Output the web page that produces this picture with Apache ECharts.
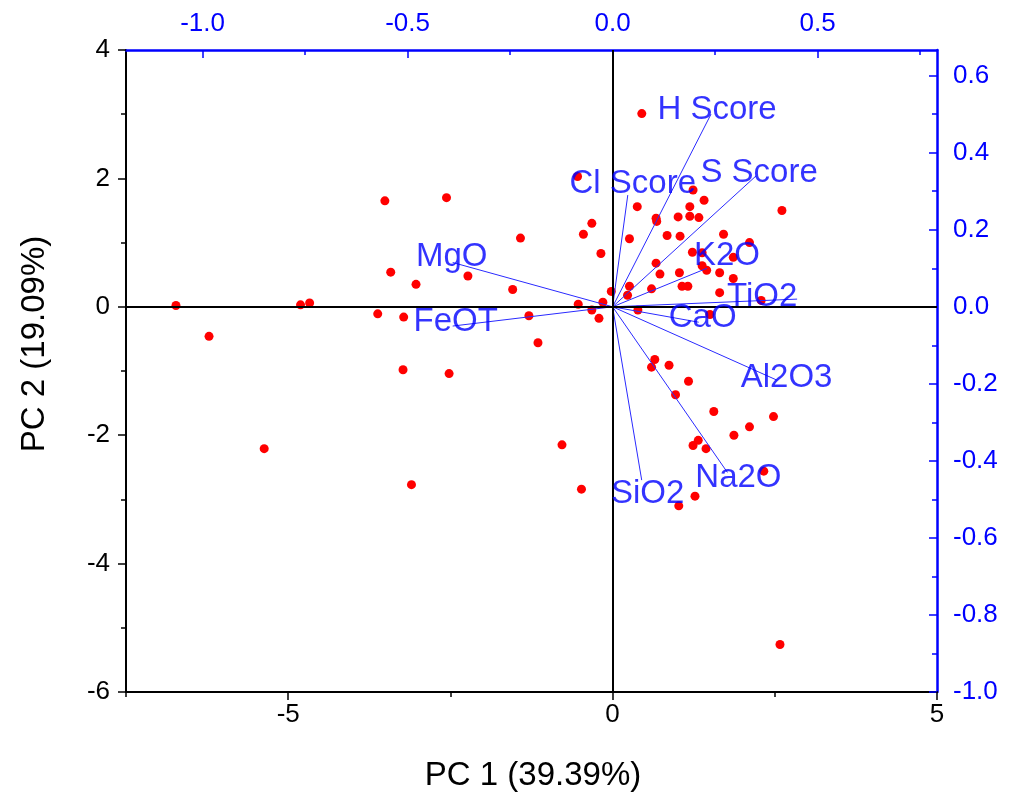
<!DOCTYPE html>
<html><head><meta charset="utf-8">
<script src="https://cdn.jsdelivr.net/npm/echarts@6/dist/echarts.min.js"></script>
<style>html,body{margin:0;padding:0;background:#fff}#c{width:1015px;height:795px}</style>
</head><body><div id="c"></div>
<script>
// ---- data ----
const pc1Scores = [-6.73,-6.22,-5.37,-4.81,-4.67,-3.51,-3.42,-3.03,-3.62,-3.22,-3.23,-3.10,-2.56,-2.52,-2.23,-1.54,-1.42,-1.29,-1.15,-0.78,-0.48,-0.54,-0.45,-0.32,-0.18,-0.53,-0.15,-0.32,-0.21,-0.02,0.26,0.23,0.60,0.73,0.39,0.26,0.38,0.45,1.24,1.41,1.19,0.67,0.68,1.01,1.19,1.33,0.84,1.04,1.71,2.11,2.61,1.23,1.38,1.86,0.67,1.38,1.45,1.03,1.65,1.86,1.07,1.16,1.65,2.29,1.50,0.65,0.60,0.87,1.17,0.97,1.56,2.48,2.11,1.87,1.32,1.24,1.44,2.33,1.27,1.02,2.58];
const pc2Scores = [0.02,-0.46,-2.21,0.03,0.06,1.65,0.54,0.35,-0.11,-0.16,-0.98,-2.77,1.70,-1.04,0.48,0.27,1.07,-0.14,-0.56,-2.15,-2.84,2.03,1.13,1.30,0.83,0.04,0.07,-0.05,-0.18,0.24,0.32,0.18,0.28,0.51,-0.05,1.06,1.56,3.01,1.82,1.66,1.56,1.38,1.33,1.40,1.41,1.39,1.11,1.10,1.13,1.00,1.50,0.85,0.84,0.77,0.68,0.64,0.57,0.53,0.53,0.44,0.32,0.32,0.22,0.10,-0.12,-0.82,-0.94,-0.91,-1.16,-1.37,-1.63,-1.71,-1.87,-2.00,-2.08,-2.16,-2.21,-2.56,-2.95,-3.10,-5.26];
const loadingNames = ['H Score','S Score','Cl Score','K2O','TiO2','CaO','Al2O3','Na2O','SiO2','MgO','FeOT'];
const loadingPC1 = [0.24,0.35,0.037,0.23,0.45,0.21,0.40,0.28,0.071,-0.39,-0.39];
const loadingPC2 = [0.50,0.34,0.29,0.10,0.02,-0.04,-0.19,-0.43,-0.45,0.115,-0.05];
const bottomTicks = [-5,0,5];
const bottomMinor = [-7.5,-2.5,2.5];
const topTicks = [-1.0,-0.5,0.0,0.5];
const topMinor = [-0.75,-0.25,0.25,0.75];
const leftTicks = [-6,-4,-2,0,2,4];
const leftMinor = [-5,-3,-1,1,3];
const rightTicks = [-1.0,-0.8,-0.6,-0.4,-0.2,0.0,0.2,0.4,0.6];
const rightMinor = [-0.9,-0.7,-0.5,-0.3,-0.1,0.1,0.3,0.5];
const xTitle = 'PC 1 (39.39%)';
const yTitle = 'PC 2 (19.09%)';

// ---- style / layout ----
const FONT = 'Liberation Sans, Arial, sans-serif';
const BLUE = '#0000ff';
const X_RANGE = [-7.5, 5], Y_RANGE = [-6, 4];
const TOP_FACTOR = 6.32, RIGHT_FACTOR = 6;
const labelOffsets = [[6,-4],[3,-3],[5,-11],[20,-12],[-35,-2],[4,-4],[10,-2],[11,5],[6,14],[-1,-6],[3,-4]];

function axis(pos, range, ticks, color, inside, major, labels, fmt, margin, lw) {
  return {
    type: 'value', position: pos, min: range[0], max: range[1],
    axisLine: { show: major, onZero: false, lineStyle: { color: color, width: lw } },
    axisTick: { show: true, inside: inside, customValues: ticks, length: major ? 8 : 5, lineStyle: { color: color, width: 1.5 } },
    axisLabel: { show: labels, customValues: ticks, color: color, fontSize: 26, fontFamily: FONT, margin: margin, formatter: fmt },
    splitLine: { show: false }
  };
}
const f1 = v => Number(v).toFixed(1);
const f0 = v => String(Math.round(v));
const topRange = [X_RANGE[0] / TOP_FACTOR, X_RANGE[1] / TOP_FACTOR];
const rightRange = [Y_RANGE[0] / RIGHT_FACTOR, Y_RANGE[1] / RIGHT_FACTOR];

const chart = echarts.init(document.getElementById('c'));
const series = [{
  type: 'scatter', xAxisIndex: 0, yAxisIndex: 0, z: 3,
  data: pc1Scores.map((x, i) => [x, pc2Scores[i]]),
  symbolSize: 9, itemStyle: { color: '#ff0000', opacity: 1 },
  markLine: { silent: true, symbol: 'none', label: { show: false },
    lineStyle: { color: '#000', width: 2, type: 'solid' },
    data: [{ xAxis: 0 }, { yAxis: 0 }] }
}];
loadingNames.forEach((n, i) => {
  series.push({ type: 'line', xAxisIndex: 1, yAxisIndex: 1, z: 4, symbol: 'none',
    data: [[0, 0], [loadingPC1[i], loadingPC2[i]]],
    lineStyle: { color: '#2a2aff', width: 1 } });
});
series.push({ type: 'scatter', xAxisIndex: 1, yAxisIndex: 1, z: 5, symbolSize: 0,
  data: loadingNames.map((n, i) => ({ value: [loadingPC1[i], loadingPC2[i]], name: n,
    label: { offset: labelOffsets[i] } })),
  label: { show: true, position: 'inside', formatter: p => p.name, color: BLUE, fontSize: 33, fontFamily: FONT }
});

chart.setOption({
  animation: false,
  grid: { left: 126, right: 78, top: 50, bottom: 103, containLabel: false, outerBoundsMode: 'none' },
  xAxis: [
    axis('bottom', X_RANGE, bottomTicks, '#000', false, true, true, f0, 10, 2),
    axis('top', topRange, topTicks, BLUE, true, true, true, f1, 13, 2.5),
    axis('bottom', X_RANGE, bottomMinor, '#000', false, false, false, f0, 10, 2),
    axis('top', topRange, topMinor, BLUE, true, false, false, f1, 13, 2.5)
  ],
  yAxis: [
    axis('left', Y_RANGE, leftTicks, '#000', false, true, true, f0, 16, 2),
    axis('right', rightRange, rightTicks, BLUE, true, true, true, f1, 16, 2.5),
    axis('left', Y_RANGE, leftMinor, '#000', false, false, false, f0, 16, 2),
    axis('right', rightRange, rightMinor, BLUE, true, false, false, f1, 16, 2.5)
  ],
  graphic: [
    { type: 'text', x: 533, y: 776, style: { text: xTitle, fontSize: 33, fontFamily: FONT, fill: '#000', align: 'center', verticalAlign: 'middle' } },
    { type: 'text', x: 35, y: 344, rotation: Math.PI / 2, style: { text: yTitle, fontSize: 33, fontFamily: FONT, fill: '#000', align: 'center', verticalAlign: 'middle' } }
  ],
  series: series
});
</script></body></html>
